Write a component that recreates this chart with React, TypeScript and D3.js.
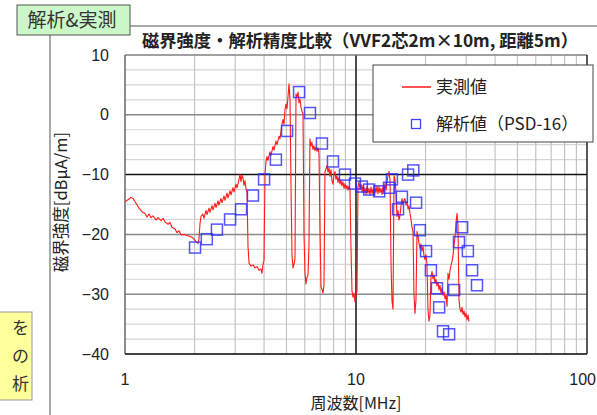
import React from 'react';
import * as d3 from 'd3';

const W = 597;
const H = 415;

// Axis ticks
const xTickValues = [1, 10, 100];
const yTickValues = [10, 0, -10, -20, -30, -40];

// Measured field strength: [frequency MHz, level dBμA/m]
const measured: [number, number][] = [
  [1.0, -14.5], [1.03, -14.2], [1.06, -13.8], [1.083, -14.0], [1.116, -14.8], [1.15, -15.6],
  [1.185, -16.2], [1.22, -16.5], [1.245, -17.1], [1.27, -16.6], [1.296, -17.2], [1.322, -16.9],
  [1.362, -17.6], [1.39, -17.2], [1.432, -17.7], [1.461, -17.3], [1.49, -17.9], [1.535, -18.3],
  [1.566, -18.0], [1.597, -18.8], [1.646, -19.1], [1.68, -19.7], [1.713, -19.4], [1.748, -20.1],
  [1.801, -20.0], [1.855, -20.2], [1.911, -20.3], [1.97, -20.6], [2.029, -21.2], [2.07, -21.5],
  [2.09, -20.8], [2.112, -18.2], [2.133, -17.0], [2.176, -16.6], [2.198, -17.3], [2.242, -16.0],
  [2.265, -16.7], [2.311, -15.6], [2.334, -16.3], [2.38, -15.2], [2.404, -15.9], [2.453, -14.8],
  [2.477, -15.5], [2.527, -14.4], [2.552, -15.1], [2.603, -14.0], [2.63, -14.7], [2.683, -13.6],
  [2.71, -14.3], [2.764, -13.1], [2.792, -13.9], [2.848, -12.7], [2.877, -13.4], [2.934, -12.2],
  [2.964, -12.9], [3.024, -11.6], [3.054, -12.2], [3.115, -10.8], [3.147, -10.0], [3.178, -11.2],
  [3.21, -10.1], [3.243, -10.6], [3.275, -11.8], [3.308, -11.0], [3.341, -12.4], [3.375, -13.0],
  [3.408, -22.0], [3.443, -24.8], [3.512, -25.3], [3.583, -25.1], [3.654, -25.6], [3.728, -25.4],
  [3.803, -26.0], [3.879, -25.8], [3.918, -26.5], [3.957, -25.0], [3.997, -24.3],
  [4.037, -10.0], [4.078, -7.8], [4.119, -7.0], [4.159, -7.6], [4.243, -6.2], [4.285, -6.8],
  [4.372, -5.3], [4.416, -5.9], [4.505, -4.4], [4.55, -5.0], [4.642, -3.6], [4.688, -4.0],
  [4.783, -1.5], [4.831, -0.8], [4.878, -1.6], [4.927, 0.8], [4.977, 1.8], [5.027, 1.0],
  [5.077, 3.0], [5.129, 5.2], [5.18, 2.5],
  [5.232, -12.0], [5.284, -23.5], [5.337, -25.6], [5.391, -25.0], [5.444, -24.0],
  [5.499, 3.5], [5.555, 3.0], [5.61, 3.8], [5.666, 2.0], [5.723, 2.6], [5.78, 1.2],
  [5.837, 0.6], [5.896, 0.2],
  [5.955, -20.0], [6.014, -26.5], [6.073, -28.3], [6.135, -27.2], [6.196, -26.8], [6.257, -22.0],
  [6.32, -4.0], [6.383, -5.2], [6.446, -4.6], [6.511, -5.8], [6.576, -5.2], [6.641, -6.0],
  [6.707, -5.4], [6.78, -6.1], [6.846, -5.5], [6.916, -6.5],
  [6.987, -20.0], [7.056, -28.8], [7.126, -29.2], [7.196, -29.8], [7.268, -28.5],
  [7.341, -9.5], [7.415, -9.0], [7.49, -8.5], [7.564, -9.6], [7.639, -8.9], [7.715, -10.3],
  [7.793, -9.2], [7.871, -11.0], [7.949, -11.6], [8.031, -10.0], [8.111, -9.5], [8.192, -10.8],
  [8.273, -10.2], [8.356, -11.3], [8.439, -10.5], [8.522, -11.6], [8.609, -10.9], [8.695, -11.9],
  [8.781, -11.2], [8.875, -12.3], [8.962, -11.5], [9.052, -12.4], [9.141, -11.8], [9.235, -12.6],
  [9.327, -12.0], [9.419, -12.4],
  [9.515, -22.5], [9.61, -29.5], [9.705, -30.5], [9.802, -29.8], [9.901, -31.3], [10.0, -30.0],
  [10.1, -29.5],
  [10.2, -12.0], [10.3, -11.2], [10.41, -12.5], [10.51, -11.6], [10.62, -12.9], [10.72, -11.8],
  [10.83, -13.0], [10.94, -12.2], [11.05, -13.3], [11.16, -12.0], [11.27, -13.1], [11.38, -12.3],
  [11.5, -13.4], [11.61, -12.1], [11.73, -13.2], [11.85, -12.4], [11.97, -13.5], [12.09, -12.2],
  [12.21, -13.0], [12.33, -11.9], [12.45, -13.2], [12.58, -12.0], [12.7, -13.0], [12.83, -12.3],
  [12.96, -13.3], [13.09, -12.0], [13.22, -12.9], [13.35, -11.5], [13.49, -12.6], [13.62, -11.2],
  [13.76, -10.2], [13.9, -9.5], [14.04, -11.0],
  [14.18, -25.0], [14.31, -31.0], [14.46, -32.5],
  [14.61, -10.2], [14.75, -10.8], [14.9, -13.0], [15.05, -17.0], [15.2, -16.0], [15.35, -17.6],
  [15.51, -16.8], [15.66, -15.2], [15.82, -14.0], [15.98, -15.0], [16.14, -14.3], [16.29, -14.0],
  [16.46, -15.1], [16.63, -14.5], [16.8, -15.8], [16.96, -15.2], [17.13, -16.5], [17.3, -17.5],
  [17.47, -18.8], [17.65, -19.5],
  [17.82, -30.0], [18.0, -33.2], [18.18, -31.0],
  [18.37, -19.5], [18.55, -20.3], [18.73, -21.5], [18.92, -22.3], [19.11, -21.6], [19.3, -22.8],
  [19.5, -22.0], [19.69, -23.5], [19.89, -24.2], [20.09, -23.4], [20.29, -25.0],
  [20.49, -32.5], [20.7, -34.5], [20.9, -33.6],
  [21.12, -27.0], [21.33, -26.2], [21.54, -27.4], [21.76, -26.8], [21.98, -28.2], [22.2, -27.5],
  [22.42, -28.6], [22.65, -28.0], [22.87, -29.3], [23.1, -28.5], [23.34, -29.8], [23.57, -29.0],
  [23.81, -30.2], [24.05, -29.6], [24.29, -30.8], [24.53, -30.2], [24.78, -32.0],
  [25.02, -26.5], [25.28, -27.5], [25.53, -26.0], [25.78, -25.2], [26.04, -24.5], [26.3, -23.5],
  [26.56, -21.8], [26.83, -20.5], [27.1, -18.0], [27.37, -16.5], [27.64, -18.5],
  [27.92, -31.0], [28.2, -32.5], [28.48, -33.0], [28.77, -32.2], [29.06, -33.4], [29.35, -32.8],
  [29.65, -33.8], [29.94, -33.2], [30.24, -34.3], [30.54, -33.5], [30.85, -34.6],
];

// Analysis (PSD-16): [frequency MHz, level dBμA/m]
const analysis: [number, number][] = [
  [2.01, -22.2], [2.26, -20.8], [2.5, -19.2], [2.85, -17.5], [3.18, -15.8], [3.58, -13.5],
  [4.0, -10.8], [4.5, -7.5], [5.03, -2.7], [5.67, 3.8], [6.32, 0.3], [7.12, -4.8],
  [7.95, -7.8], [8.96, -10.0], [9.9, -11.5], [10.6, -12.0], [11.4, -12.5], [12.6, -12.8],
  [13.9, -12.2], [14.3, -10.8], [15.2, -15.8], [15.8, -13.7], [16.8, -10.0], [17.7, -9.3],
  [18.2, -14.7], [18.9, -19.3], [20.1, -22.8], [21.1, -26.0], [22.4, -29.0], [22.9, -32.2],
  [23.8, -36.2], [25.3, -36.7], [26.6, -29.3], [27.9, -21.3], [28.8, -18.8], [30.5, -22.8],
  [31.8, -26.0], [33.4, -28.5],
];

const titleText = '磁界強度・解析精度比較（VVF2芯2m×10m, 距離5m）';
const legendLabels = ['実測値', '解析値（PSD-16）'];
const yAxisTitle = '磁界強度[dBμA/m]';
const xAxisTitle = '周波数[MHz]';
const tabText = '解析&実測';
const noteLines = ['を', 'の', '析'];

const JP = "'Noto Sans CJK JP', 'Noto Sans', sans-serif";
const NUM = "'Liberation Sans', Arial, sans-serif";

export default function App() {
  const x = d3.scaleLog().domain([1, 100]).range([125, 587]);
  const y = d3.scaleLinear().domain([-40, 10]).range([354, 55]);
  const [x0, x1] = x.range();
  const [y0, y1] = y.range();

  const minorX: number[] = [];
  [1, 10].forEach((dec) => {
    for (let k = 2; k <= 9; k++) minorX.push(k * dec);
  });
  const minorY: number[] = d3.range(-40, 10.01, 2.5).filter((v) => v % 10 !== 0);

  const line = d3
    .line<[number, number]>()
    .x((d) => x(d[0]))
    .y((d) => y(d[1]));

  const sq = 11;

  return (
    <div style={{ position: 'absolute', left: 0, top: 0, width: W, height: H, background: '#fff' }}>
      <svg width={W} height={H} style={{ display: 'block' }}>
        {/* slide frame */}
        <line x1={130} x2={W} y1={26} y2={26} stroke="#8c8c8c" strokeWidth={1.5} />
        <line x1={50} x2={50} y1={35} y2={H} stroke="#8c8c8c" strokeWidth={1.5} />
        <rect x={17} y={5} width={113} height={30} fill="#ccf7c8" stroke="#555" strokeWidth={1} />
        <text x={72} y={27} textAnchor="middle" fontFamily={JP} fontSize={19} fill="#333">
          {tabText}
        </text>
        <rect x={-2} y={312} width={34} height={88} fill="#ffff9c" stroke="#999" strokeWidth={1} />
        {noteLines.map((t, i) => (
          <text key={i} x={29} y={334 + i * 28} textAnchor="end" fontFamily={JP} fontSize={17} fill="#333">
            {t}
          </text>
        ))}

        {/* title */}
        <text x={360} y={47} textAnchor="middle" fontFamily={JP} fontSize={17.3} fontWeight="bold" fill="#222">
          {titleText}
        </text>

        {/* grid */}
        {minorY.map((v) => (
          <line key={'hy' + v} x1={x0} x2={x1} y1={y(v)} y2={y(v)} stroke="#d6d6d6" strokeWidth={1.2} />
        ))}
        {minorX.map((v) => (
          <line key={'vx' + v} x1={x(v)} x2={x(v)} y1={y1} y2={y0} stroke="#c4c4c4" strokeWidth={1.2} />
        ))}
        {yTickValues.map((v) => (
          <line
            key={'my' + v}
            x1={x0}
            x2={x1}
            y1={y(v)}
            y2={y(v)}
            stroke={v === -10 ? '#111' : '#8a8a8a'}
            strokeWidth={1.5}
          />
        ))}
        <line x1={x(10)} x2={x(10)} y1={y1} y2={y0} stroke="#111" strokeWidth={1.5} />

        {/* frame */}
        <line x1={x0} x2={x1} y1={y1} y2={y1} stroke="#9a9a9a" strokeWidth={1.2} />
        <line x1={x0} x2={x0} y1={y1} y2={y0} stroke="#666" strokeWidth={1.5} />
        <line x1={x1} x2={x1} y1={y1} y2={y0} stroke="#222" strokeWidth={1.5} />
        <line x1={x0} x2={x1} y1={y0} y2={y0} stroke="#222" strokeWidth={1.5} />

        {/* measured */}
        <path d={line(measured) ?? ''} fill="none" stroke="#ff1a1a" strokeWidth={1.1} strokeLinejoin="round" />

        {/* analysis */}
        {analysis.map((d, i) => (
          <rect
            key={'a' + i}
            x={x(d[0]) - sq / 2}
            y={y(d[1]) - sq / 2}
            width={sq}
            height={sq}
            fill="none"
            stroke="#2a2aff"
            strokeOpacity={0.8}
            strokeWidth={1.5}
          />
        ))}

        {/* y ticks */}
        {yTickValues.map((v) => (
          <text key={'ty' + v} x={109} y={y(v) + 5.5} textAnchor="end" fontFamily={NUM} fontSize={16} fill="#222">
            {v < 0 ? '−' + Math.abs(v) : v}
          </text>
        ))}
        {/* x ticks (the last one is kept inside the page edge) */}
        {xTickValues.map((v, i) => {
          const last = i === xTickValues.length - 1;
          return (
            <text
              key={'tx' + v}
              x={last ? W - 1 : x(v)}
              y={385}
              textAnchor={last ? 'end' : 'middle'}
              fontFamily={NUM}
              fontSize={16}
              fill="#222"
            >
              {v}
            </text>
          );
        })}

        <text x={356} y={409} textAnchor="middle" fontFamily={JP} fontSize={16} fill="#222">
          {xAxisTitle}
        </text>
        <text
          transform="translate(67,202) rotate(-90)"
          textAnchor="middle"
          fontFamily={JP}
          fontSize={16.5}
          fill="#222"
        >
          {yAxisTitle}
        </text>

        {/* legend */}
        <rect x={373} y={65} width={220} height={77} fill="#fff" stroke="#444" strokeWidth={1} />
        <line x1={402} x2={431} y1={87} y2={87} stroke="#ff1a1a" strokeWidth={1.5} />
        <text x={436} y={93} fontFamily={JP} fontSize={17} fill="#222">
          {legendLabels[0]}
        </text>
        <rect x={411.5} y={119.5} width={9} height={9} fill="none" stroke="#4040ff" strokeWidth={1.3} />
        <text x={436} y={130} fontFamily={JP} fontSize={17} fill="#222">
          {legendLabels[1]}
        </text>
      </svg>
    </div>
  );
}
